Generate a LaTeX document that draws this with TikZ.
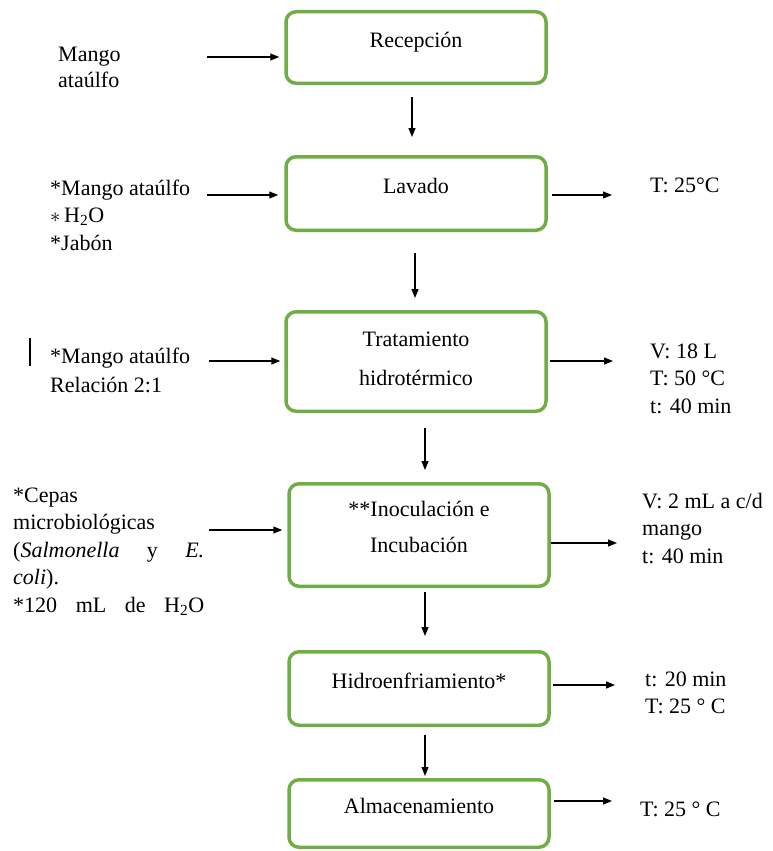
\documentclass[tikz,border=0pt]{standalone}
\usepackage{fontspec}
\setmainfont{Liberation Serif}
\usetikzlibrary{arrows.meta}
\definecolor{verde}{RGB}{112,173,71}

\begin{document}
\begin{tikzpicture}[
    proc/.style={draw=verde,line width=3.5pt,rounded corners=10pt,minimum width=260pt,align=center,inner sep=0pt},
    una/.style={text height=16pt,text depth=16pt},
    txt/.style={align=left,inner sep=0pt,anchor=base west},
    flecha/.style={-{Triangle[length=9pt,width=7pt]},line width=1.2pt},
    font=\fontsize{22}{27.5}\selectfont,
    x=1pt,y=-1pt
    ]
    \useasboundingbox (0,0) rectangle (773,851);
    % etapas
    \node[proc,una,minimum height=71.5pt](rec) at (416,47.5){Recepción};
    \node[proc,una,minimum height=73.5pt](lav) at (416,193.5){Lavado};
    \node[proc,text depth=6pt,minimum height=99.5pt](tra) at (416,361.5){Tratamiento\\[11.5pt]hidrotérmico};
    \node[proc,text depth=16pt,minimum height=102.5pt](ino) at (419,535){**Inoculación e\\[8.5pt]Incubación};
    \node[proc,una,minimum height=73.5pt](hid) at (419,688.5){Hidroenfriamiento*};
    \node[proc,una,minimum height=67.5pt](alm) at (419,813.5){Almacenamiento};
    % entradas
    \node[txt](e1) at (58,88){Mango\\[-1.5pt]ataúlfo};
    \node[txt](e2) at (50,250){*Mango ataúlfo\\$\ast$\,H\textsubscript{2}O\\*Jabón};
    \node[txt](e3) at (50,392){*Mango ataúlfo\\[1.5pt]Relación 2:1};
    \node[txt](e4) at (13,612){*Cepas\\microbiológicas\\\makebox[191pt][s]{(\textit{Salmonella} y \textit{E.}}\\\textit{coli}).\\\makebox[191pt][s]{*120 mL de H\textsubscript{2}O}};
    \draw[line width=1.2pt] (30,338) -- (30,366);
    % salidas
    \node[txt](s2) at (650,192){T: 25°C};
    \node[txt](s3) at (650,413){V: 18 L\\T: 50 °C\\t: 40 min};
    \node[txt](s4) at (642,563){V: 2 mL a c/d\\mango\\t: 40 min};
    \node[txt](s5) at (645,713){t: 20 min\\[-0.5pt]T: 25 ° C};
    \node[txt](s6) at (640,816){T: 25 ° C};
    % flechas de entrada
    \coordinate (a1) at (207,57);
    \coordinate (a2) at (207,195);
    \coordinate (a3) at (209,361);
    \coordinate (a4) at (209,530);
    \draw[flecha,shorten >=5pt] (a1) -- (a1 -| rec.west);
    \draw[flecha,shorten >=6pt] (a2) -- (a2 -| lav.west);
    \draw[flecha,shorten >=4pt] (a3) -- (a3 -| tra.west);
    \draw[flecha,shorten >=5pt] (a4) -- (a4 -| ino.west);
    % flechas de salida
    \coordinate (b2) at (612,195);
    \coordinate (b3) at (613,361);
    \coordinate (b4) at (617,543);
    \coordinate (b5) at (615,685);
    \coordinate (b6) at (612,801);
    \draw[flecha,shorten <=4pt] (lav.east |- b2) -- (b2);
    \draw[flecha,shorten <=2pt] (tra.east |- b3) -- (b3);
    \draw[flecha] (ino.east |- b4) -- (b4);
    \draw[flecha,shorten <=2pt] (hid.east |- b5) -- (b5);
    \draw[flecha,shorten <=3pt] (alm.east |- b6) -- (b6);
    % flujo principal
    \draw[flecha,shorten <=12pt,shorten >=18pt] ([xshift=-4pt]rec.south) -- ([xshift=-4pt]lav.north);
    \draw[flecha,shorten <=21pt,shorten >=12pt] ([xshift=-1pt]lav.south) -- ([xshift=-1pt]tra.north);
    \draw[flecha,shorten <=15pt,shorten >=12pt] ([xshift=9pt]tra.south) -- ([xshift=6pt]ino.north);
    \draw[flecha,shorten <=4pt,shorten >=14pt] ([xshift=6pt]ino.south) -- ([xshift=6pt]hid.north);
    \draw[flecha,shorten <=8pt,shorten >=2pt] ([xshift=6pt]hid.south) -- ([xshift=6pt]alm.north);
  \end{tikzpicture}
\end{document}
